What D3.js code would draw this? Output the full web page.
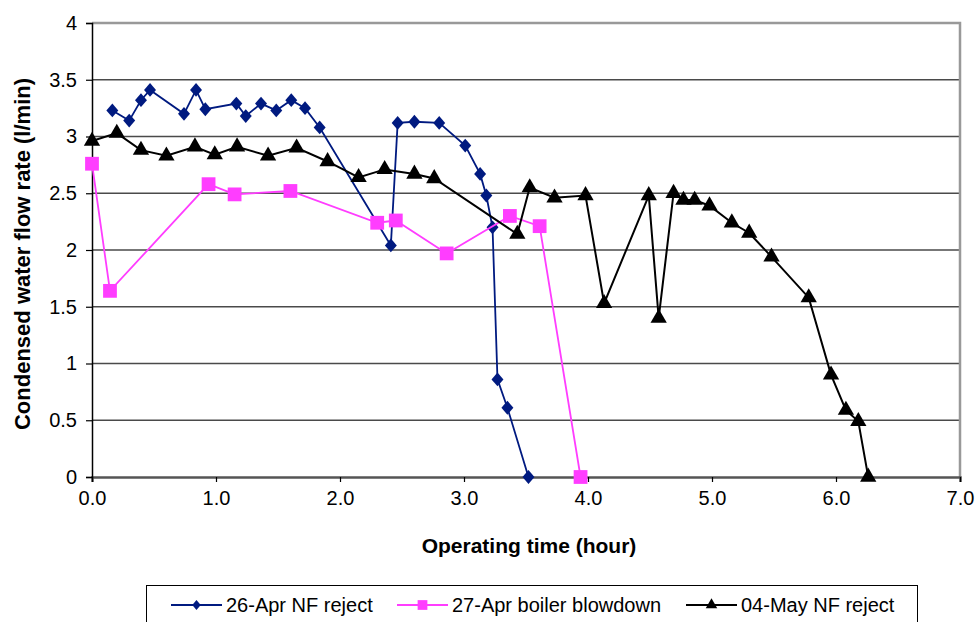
<!DOCTYPE html>
<html>
<head>
<meta charset="utf-8">
<script src="https://cdn.jsdelivr.net/npm/d3@7"></script>
<style>
  body { margin: 0; background: #fff; }
  svg text { font-family: "Liberation Sans", Arial, sans-serif; fill: #000; }
</style>
</head>
<body>
<svg id="chart" width="977" height="622"></svg>
<script>
// 26-Apr NF reject
const aprNF = [
    [0.164, 3.23], [0.30, 3.14], [0.395, 3.32], [0.468, 3.41], [0.742, 3.20],
    [0.839, 3.41], [0.914, 3.24], [1.164, 3.29], [1.24, 3.18], [1.363, 3.29],
    [1.486, 3.23], [1.607, 3.32], [1.718, 3.25], [1.836, 3.08], [2.41, 2.04],
    [2.465, 3.12], [2.60, 3.13], [2.80, 3.12], [3.01, 2.92], [3.13, 2.67],
    [3.18, 2.48], [3.23, 2.20], [3.27, 0.86], [3.35, 0.61], [3.52, 0]
];
// 27-Apr boiler blowdown
const aprBoiler = [
    [0.0, 2.76], [0.145, 1.64], [0.94, 2.58], [1.15, 2.49], [1.60, 2.52],
    [2.30, 2.24], [2.45, 2.26], [2.86, 1.97], [3.37, 2.30], [3.61, 2.21],
    [3.94, 0]
];
// 04-May NF reject
const mayNF = [
    [0.0, 2.96], [0.20, 3.03], [0.395, 2.88], [0.60, 2.83], [0.83, 2.91],
    [0.99, 2.84], [1.17, 2.91], [1.42, 2.83], [1.65, 2.90], [1.90, 2.78],
    [2.15, 2.64], [2.36, 2.71], [2.60, 2.67], [2.76, 2.63], [3.43, 2.14],
    [3.53, 2.55], [3.73, 2.46], [3.98, 2.48], [4.13, 1.53], [4.49, 2.48],
    [4.57, 1.40], [4.69, 2.50], [4.77, 2.44], [4.86, 2.44], [4.98, 2.39],
    [5.16, 2.24], [5.30, 2.15], [5.48, 1.94], [5.78, 1.58], [5.96, 0.90],
    [6.08, 0.59], [6.18, 0.49], [6.26, 0]
];

const xTicks = [0, 1, 2, 3, 4, 5, 6, 7];
const yTicks = [0, 0.5, 1, 1.5, 2, 2.5, 3, 3.5, 4];

const series = [
    { name: '26-Apr NF reject', data: aprNF, color: '#001A80', symbol: d3.symbolDiamond, size: 55, sx: 1.5, width: 1.8 },
    { name: '27-Apr boiler blowdown', data: aprBoiler, color: '#FF3DFF', symbol: d3.symbolSquare, size: 190, sx: 1, width: 1.8 },
    { name: '04-May NF reject', data: mayNF, color: '#000000', symbol: d3.symbolTriangle, size: 115, sx: 1, width: 2 }
];

const plotLeft = 92, plotRight = 960, plotTop = 23, plotBottom = 477;

const x = d3.scaleLinear().domain([0, 7]).range([plotLeft, plotRight]);
const y = d3.scaleLinear().domain([0, 4]).range([plotBottom, plotTop]);

const svg = d3.select('#chart');

// gridlines
svg.append('g')
    .selectAll('line')
    .data(yTicks.filter(v => v > 0 && v < 4))
    .join('line')
    .attr('x1', plotLeft).attr('x2', plotRight)
    .attr('y1', d => y(d)).attr('y2', d => y(d))
    .attr('stroke', '#4a4a4a')
    .attr('stroke-width', 1.5);

// plot frame (top, right)
svg.append('path')
    .attr('d', `M${plotLeft},${plotTop}H${plotRight}V${plotBottom}`)
    .attr('fill', 'none')
    .attr('stroke', '#999')
    .attr('stroke-width', 2.5);

// axes
const xAxis = svg.append('g')
    .attr('transform', `translate(0,${plotBottom})`)
    .call(d3.axisBottom(x).tickValues(xTicks).tickFormat(d3.format('.1f')).tickSize(5).tickPadding(9));
const yAxis = svg.append('g')
    .attr('transform', `translate(${plotLeft},0)`)
    .call(d3.axisLeft(y).tickValues(yTicks).tickFormat(d => d).tickSize(6).tickPadding(9));

[xAxis, yAxis].forEach(a => {
    a.select('.domain').attr('stroke', '#000').attr('stroke-width', 1.5);
    a.selectAll('.tick line').attr('stroke', '#000').attr('stroke-width', 1.2);
    a.selectAll('.tick text').attr('font-size', 20);
});
xAxis.select('.domain').attr('stroke', '#555').attr('stroke-width', 2.5);

// axis titles
svg.append('text')
    .attr('x', 529).attr('y', 553)
    .attr('text-anchor', 'middle')
    .attr('font-size', 21).attr('font-weight', 'bold')
    .text('Operating time (hour)');
svg.append('text')
    .attr('transform', 'translate(30,254) rotate(-90)')
    .attr('text-anchor', 'middle')
    .attr('font-size', 22).attr('font-weight', 'bold')
    .text('Condensed water flow rate (l/min)');

// series
const line = d3.line().x(d => x(d[0])).y(d => y(d[1]));

series.forEach(s => {
    const g = svg.append('g');
    g.append('path')
        .datum(s.data)
        .attr('d', line)
        .attr('fill', 'none')
        .attr('stroke', s.color)
        .attr('stroke-width', s.width);
    g.selectAll('path.pt')
        .data(s.data)
        .join('path')
        .classed('pt', true)
        .attr('transform', d => `translate(${x(d[0])},${y(d[1])}) scale(${s.sx},1)`)
        .attr('d', d3.symbol(s.symbol, s.size))
        .attr('fill', s.color);
});

// legend
const legend = svg.append('g');
legend.append('rect')
    .attr('x', 146.5).attr('y', 585.5)
    .attr('width', 771).attr('height', 45)
    .attr('fill', '#fff')
    .attr('stroke', '#000')
    .attr('stroke-width', 1);

const legendX = [171, 397, 686];
series.forEach((s, i) => {
    const lg = legend.append('g').attr('transform', `translate(${legendX[i]},605)`);
    lg.append('line')
        .attr('x1', 0).attr('x2', 51)
        .attr('stroke', s.color).attr('stroke-width', 2);
    lg.append('path')
        .attr('transform', `translate(25.5,0) scale(${s.sx},1)`)
        .attr('d', d3.symbol(s.symbol, s.size * 0.5))
        .attr('fill', s.color);
    lg.append('text')
        .attr('x', 55).attr('y', 7)
        .attr('font-size', 20)
        .text(s.name);
});
</script>
</body>
</html>
